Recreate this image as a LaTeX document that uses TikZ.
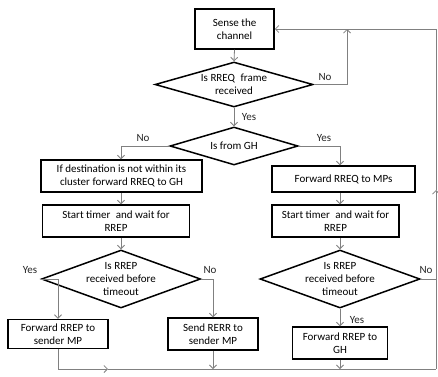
\documentclass[tikz,border=0pt]{standalone}
\usepackage{fontspec}
\setmainfont{Carlito}
\usetikzlibrary{shapes.geometric,arrows.meta}
\tikzset{
  box/.style={draw=black, line width=1.5pt, align=center, inner sep=1pt, font=\fontsize{11}{13}\selectfont},
  dia/.style={draw=black, line width=1.5pt, shape=diamond, align=center, inner sep=-6pt, font=\fontsize{11}{13}\selectfont},
  conn/.style={draw=black!50, line width=0.8pt},
  tip/.tip={Straight Barb[length=3.5pt,width=7pt]},
  lbl/.style={font=\fontsize{11}{13}\selectfont, inner sep=1pt, text=black!85}
}
\begin{document}
\begin{tikzpicture}[x=1pt,y=-1pt]
\useasboundingbox (0,0) rectangle (438,376);
\fill[white] (0,0) rectangle (438,376);
% nodes
\node[box, minimum width=79pt, minimum height=40pt] (sense) at (234.5,29) {Sense the\\channel};
\node[dia, minimum width=158pt, minimum height=45pt, aspect=3.5] (d1) at (234,84.5) {Is RREQ\enspace frame\\received};
\node[dia, minimum width=128pt, minimum height=38pt, aspect=3.4] (d2) at (234,146) {Is from GH};
\node[box, minimum width=161pt, minimum height=32pt] (lb1) at (121.5,176) {If destination is not within its\\cluster forward RREQ to GH};
\node[box, minimum width=143pt, minimum height=26pt] (rb1) at (343.5,179) {Forward RREQ to MPs};
\node[box, minimum width=147pt, minimum height=32pt] (lb2) at (116,221) {Start timer\enspace and wait for\\RREP};
\node[box, minimum width=127pt, minimum height=32pt] (rb2) at (335.5,221) {Start timer\enspace and wait for\\RREP};
\node[dia, minimum width=159pt, minimum height=58pt, aspect=2.8] (d3) at (121,279) {Is RREP\\received before\\timeout};
\node[dia, minimum width=160pt, minimum height=58pt, aspect=2.8] (d4) at (340,279) {Is RREP\\received before\\timeout};
\node[box, minimum width=100pt, minimum height=29pt] (lb3) at (58,334) {Forward RREP to\\sender MP};
\node[box, minimum width=90pt, minimum height=32pt] (mb3) at (213,334) {Send RERR to\\sender MP};
\node[box, minimum width=95pt, minimum height=32pt] (rb3) at (340,343) {Forward RREP to\\GH};
% helper coordinates
\coordinate (cL) at (121,0);
\coordinate (cR) at (340,0);
\coordinate (tj) at (347,29);
\coordinate (tr) at (436,29);
\coordinate (rm) at (436,190);
\coordinate (br) at (436,369);
\coordinate (bm) at (108,369);
% connectors
\draw[conn,-tip] (sense.south) -- (d1.north);
\draw[conn,-tip] (d1.south) -- (d2.north);
\draw[conn,-tip] (d1.east) -| (tj);
\draw[conn,-tip] (d2.west) -| (cL |- lb1.north);
\draw[conn,-tip] (d2.east) -| (cR |- rb1.north);
\draw[conn,-tip] (cL |- lb1.south) -- (cL |- lb2.north);
\draw[conn,-tip] (cR |- rb1.south) -- (cR |- rb2.north);
\draw[conn,-tip] (cL |- lb2.south) -- (d3.north);
\draw[conn,-tip] (cR |- rb2.south) -- (d4.north);
\draw[conn,-tip] (d3.west) -| (lb3.north);
\draw[conn,-tip] (d3.east) -| (mb3.north);
\draw[conn,-tip] (d4.south) -- (rb3.north);
\draw[conn] (d4.east) -- (d4.east -| br);
\draw[conn,-tip] (lb3.south) |- (bm);
\draw[conn] (bm) -- (br);
\draw[conn,-tip] (mb3.south) -- (mb3.south |- br);
\draw[conn,-tip] (rb3.south) -- (rb3.south |- br);
\draw[conn,-tip] (br) -- (rm);
\draw[conn,-tip] (rm) -- (tr) -- (sense.east);
% labels
\node[lbl] (l1) at (325,77) {No};
\node[lbl] (l2) at (249,117) {Yes};
\node[lbl] (l3) at (143,138) {No};
\node[lbl] (l4) at (324,138) {Yes};
\node[lbl] (l5) at (30,270) {Yes};
\node[lbl] (l6) at (210,270) {No};
\node[lbl] (l7) at (426,270) {No};
\node[lbl] (l8) at (357,320) {Yes};
\end{tikzpicture}
\end{document}
